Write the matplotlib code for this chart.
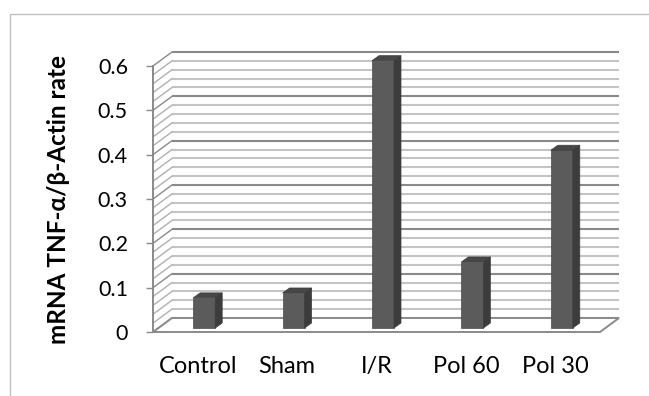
import matplotlib.pyplot as plt
from matplotlib.patches import Polygon, Rectangle

categories = ['Control', 'Sham', 'I/R', 'Pol 60', 'Pol 30']
values = [0.068, 0.079, 0.603, 0.149, 0.401]
y_ticks = [0, 0.1, 0.2, 0.3, 0.4, 0.5, 0.6]
y_tick_labels = ['0', '0.1', '0.2', '0.3', '0.4', '0.5', '0.6']
grid_step = 0.02
y_label = 'mRNA TNF-\u03b1/\u03b2-Actin rate'

plt.rcParams['font.family'] = ['Lato', 'DejaVu Sans']

fig = plt.figure(figsize=(6.49, 3.96), dpi=100)
ax = fig.add_axes([153 / 649, 64 / 396, 447 / 649, 266 / 396])
ax.set_xlim(-0.5, len(categories) - 0.5)
ax.set_ylim(0, 0.6)

# outer chart frame (only top and left edges fall inside the canvas)
fig.patches.append(Rectangle((10 / 649, -0.2), 1.2, 1.2 - 14 / 396,
                             transform=fig.transFigure, fill=False,
                             edgecolor='#bfbfbf', lw=1.0))

# 3d depth of the walls and the bars, in data units
x0, x1 = ax.get_xlim()
wdx, wdy = 0.2125, 0.0316
bar_w = 0.246
bdx, bdy = 0.078, 0.0113
boff_x, boff_y = 0.073, 0.009

# gridlines on back wall and side wall
n_lines = int(round(0.6 / grid_step)) + 1
for i in range(n_lines):
    v = i * grid_step
    major = i % 5 == 0
    col = '#8a8a8a' if major else '#c4c4c4'
    ax.plot([x0 + wdx, x1 + wdx], [v + wdy, v + wdy], color=col, lw=1.5,
            clip_on=False, zorder=1, solid_capstyle='butt')
    ax.plot([x0, x0 + wdx], [v, v + wdy],
            color='#8a8a8a' if major else '#b0b0b0',
            lw=1.0, clip_on=False, zorder=1)

# floor
floor = Polygon([(x0, 0), (x1, 0), (x1 + wdx, wdy), (x0 + wdx, wdy)],
                closed=True, facecolor='white', edgecolor='#8a8a8a', lw=1.4,
                clip_on=False, zorder=2)
ax.add_patch(floor)

# front left axis line
ax.plot([x0, x0], [0, 0.6], color='#8a8a8a', lw=1.4, clip_on=False, zorder=2)

# 3d bars
for i, v in enumerate(values):
    left = i - bar_w / 2 + boff_x
    right = left + bar_w
    b = boff_y
    front = Polygon([(left, b), (right, b), (right, b + v), (left, b + v)],
                    closed=True, facecolor='#5b5b5b', edgecolor='#4a4a4a',
                    lw=0.5, clip_on=False, zorder=4)
    side = Polygon([(right, b), (right + bdx, b + bdy), (right + bdx, b + v + bdy),
                    (right, b + v)], closed=True, facecolor='#3c3c3c',
                   edgecolor='#3c3c3c', lw=0.5, clip_on=False, zorder=4)
    top = Polygon([(left, b + v), (right, b + v), (right + bdx, b + v + bdy),
                   (left + bdx, b + v + bdy)], closed=True, facecolor='#474747',
                  edgecolor='#3c3c3c', lw=0.5, clip_on=False, zorder=4)
    for p in (front, side, top):
        ax.add_patch(p)

for s in ax.spines.values():
    s.set_visible(False)

ax.set_yticks(y_ticks)
ax.set_yticklabels(y_tick_labels, fontsize=15.5)
ax.tick_params(axis='y', length=5, width=1.0, color='#8a8a8a', pad=13)
ax.set_xticks(range(len(categories)))
ax.set_xticklabels(categories, fontsize=17)
ax.tick_params(axis='x', length=0, pad=17)
ax.set_ylabel(y_label, fontsize=17.5, fontweight='bold')
ax.yaxis.set_label_coords(-83 / 447, 0.5)

fig.savefig('out.png', dpi=100)
